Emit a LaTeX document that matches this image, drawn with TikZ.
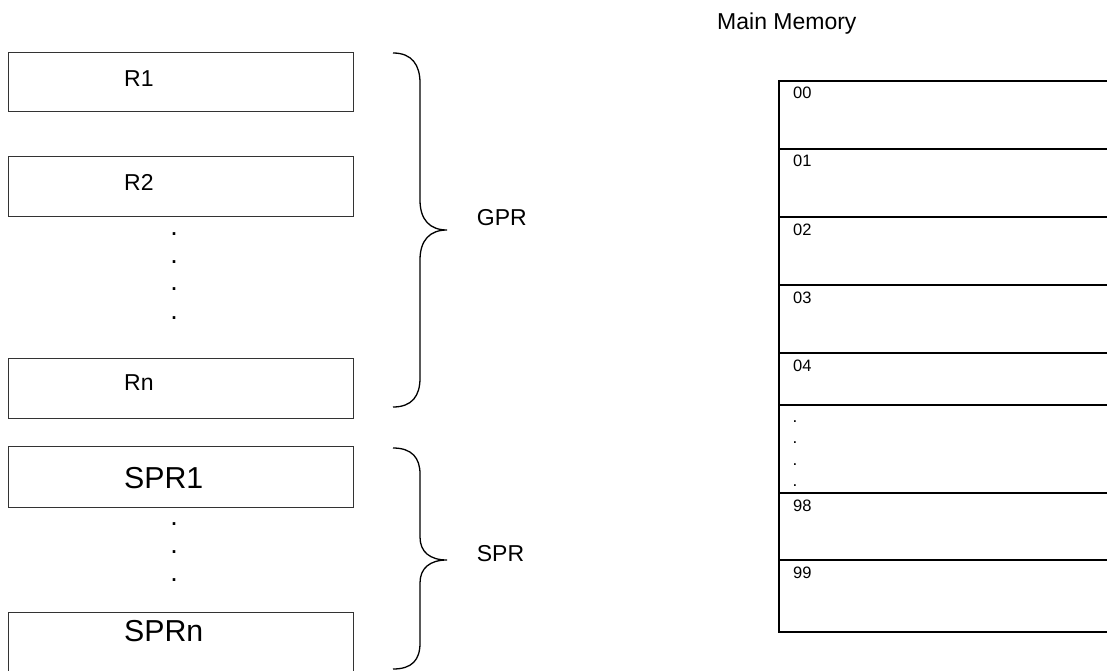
\documentclass[tikz,border=0pt]{standalone}
\usepackage{fontspec}
\setmainfont{Liberation Sans}
\begin{document}
\begin{tikzpicture}[x=1pt,y=-1pt,
  regbox/.style={draw=black!80, line width=1pt, minimum width=345pt, inner sep=0pt, outer sep=0pt},
  cell/.style={draw=black, line width=2pt, minimum width=345pt, inner sep=0pt, outer sep=0pt, anchor=north west},
  lbl/.style={font=\fontsize{23}{26}\selectfont, anchor=base west, inner sep=0pt},
  bigl/.style={font=\fontsize{30.3}{34}\selectfont, anchor=base west, inner sep=0pt},
  addr/.style={font=\fontsize{16.5}{19}\selectfont, anchor=base west, inner sep=0pt},
  dotl/.style={font=\fontsize{27}{30}\selectfont, anchor=base, inner sep=0pt},
  dotm/.style={font=\fontsize{17}{19}\selectfont, anchor=base, inner sep=0pt},
  brace/.style={draw=black, line width=1.3pt}]
\useasboundingbox (0,0) rectangle (1107,671);
\clip (0,0) rectangle (1107,671);

% general purpose registers
\node[regbox, minimum height=59.3pt] (r1) at (180.5,82.35) {};
\node[regbox, minimum height=59.3pt] (r2) at (180.5,186.35) {};
\node[regbox, minimum height=60pt] (rn) at (180.5,388) {};
\node[lbl] (tr1) at (124,86.7) {R1};
\node[lbl] (tr2) at (124,190) {R2};
\node[lbl] (trn) at (124,390.7) {Rn};
\node[dotl] (gd1) at (174,235.5) {.};
\node[dotl] (gd2) at (174,263.5) {.};
\node[dotl] (gd3) at (174,290.5) {.};
\node[dotl] (gd4) at (174,319.5) {.};

% special purpose registers
\node[regbox, minimum height=61pt] (s1) at (180.5,476.5) {};
\node[regbox, minimum height=66pt] (sn) at (180.5,645) {};
\node[bigl] (ts1) at (124,488.3) {SPR1};
\node[bigl] (tsn) at (124,641.7) {SPRn};
\node[dotl] (sd1) at (174,525.5) {.};
\node[dotl] (sd2) at (174,553.5) {.};
\node[dotl] (sd3) at (174,581.5) {.};

% braces
\coordinate (gtop) at (393,53);
\coordinate (gtip) at (447,230);
\coordinate (gbot) at (393,407);
\draw[brace] (gtop) .. controls (412,53) and (420,65) .. (420,83) -- (420,200)
  .. controls (420,220) and (430,230) .. (gtip)
  .. controls (430,230) and (420,240) .. (420,260) -- (420,378)
  .. controls (420,396) and (412,407) .. (gbot);
\node[lbl] (gpr) at (476.7,225) {GPR};

\coordinate (stop) at (393,448);
\coordinate (stip) at (447,560);
\coordinate (sbot) at (393,669);
\draw[brace] (stop) .. controls (412,448) and (420,458) .. (420,474) -- (420,537)
  .. controls (420,552) and (430,560) .. (stip)
  .. controls (430,560) and (420,568) .. (420,583) -- (420,643)
  .. controls (420,660) and (412,669) .. (sbot);
\node[lbl] (spr) at (476.7,561.7) {SPR};

% main memory
\node[lbl] (mm) at (717,30) {Main Memory};
\node[cell, minimum height=68.3pt] (c0) at (779,80.7) {};
\node[cell, minimum height=68pt] (c1) at (779,149) {};
\node[cell, minimum height=68pt] (c2) at (779,217) {};
\node[cell, minimum height=68pt] (c3) at (779,285) {};
\node[cell, minimum height=52pt] (c4) at (779,353) {};
\node[cell, minimum height=88pt] (cd) at (779,405) {};
\node[cell, minimum height=67pt] (c98) at (779,493) {};
\node[cell, minimum height=72pt] (c99) at (779,560) {};
\node[addr] (a0) at (793,99) {00};
\node[addr] (a1) at (793,167) {01};
\node[addr] (a2) at (793,235) {02};
\node[addr] (a3) at (793,303) {03};
\node[addr] (a4) at (793,371) {04};
\node[addr] (a98) at (793,511) {98};
\node[addr] (a99) at (793,578) {99};
\node[dotm] (md1) at (795,422.5) {.};
\node[dotm] (md2) at (795,443.5) {.};
\node[dotm] (md3) at (795,465.5) {.};
\node[dotm] (md4) at (795,486.5) {.};
\end{tikzpicture}
\end{document}
